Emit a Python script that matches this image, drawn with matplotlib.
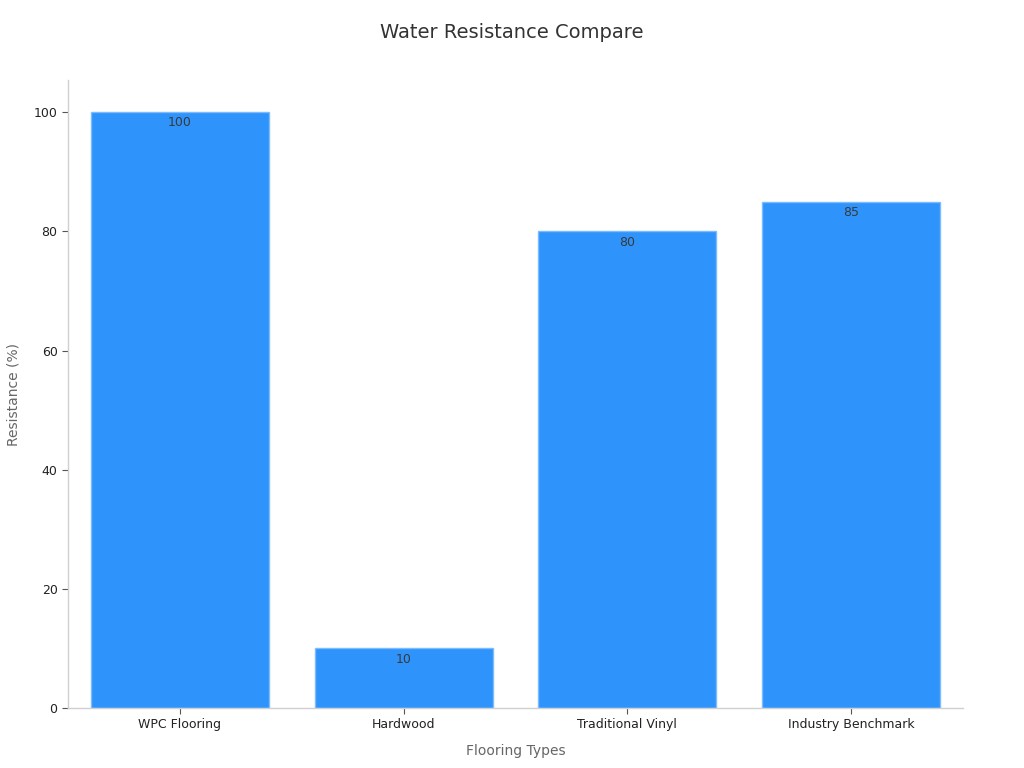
import matplotlib
matplotlib.use("Agg")
import matplotlib.pyplot as plt

categories = ["WPC Flooring", "Hardwood", "Traditional Vinyl", "Industry Benchmark"]
values = [100, 10, 80, 85]
yticks = [0, 20, 40, 60, 80, 100]

fig = plt.figure(figsize=(10.24, 7.68), dpi=100)
ax = fig.add_axes([68/1024, 60/768, (963-68)/1024, (708-80)/768])

x = list(range(len(categories)))
bars = ax.bar(x, values, width=0.795, color="#2E93FA", edgecolor="#7BBBFF", linewidth=1)
for xi, v in zip(x, values):
    ax.annotate(str(v), (xi, v), xytext=(0, -3), textcoords="offset points",
                ha="center", va="top", fontsize=9, color="#3a3a3a")

ax.set_xlim(-0.5, 3.5)
ax.set_ylim(0, 105.4)
ax.set_xticks(x)
ax.set_xticklabels(categories, fontsize=9, color="#222222")
ax.set_yticks(yticks)
ax.set_yticklabels([str(t) for t in yticks], fontsize=9, color="#222222")
ax.tick_params(axis="both", colors="#555555", labelcolor="#222222", length=4, width=0.8)

for s in ["top", "right"]:
    ax.spines[s].set_visible(False)
for s in ["left", "bottom"]:
    ax.spines[s].set_color("#d0d0d0")
    ax.spines[s].set_linewidth(1)

ax.set_xlabel("Flooring Types", fontsize=10, color="#666666", labelpad=9)
ax.set_ylabel("Resistance (%)", fontsize=10, color="#666666", labelpad=9.5)
fig.text(0.5, 1 - 33/768, "Water Resistance Compare", ha="center", va="center", fontsize=14, color="#333333")

fig.savefig("out.png", dpi=100)
